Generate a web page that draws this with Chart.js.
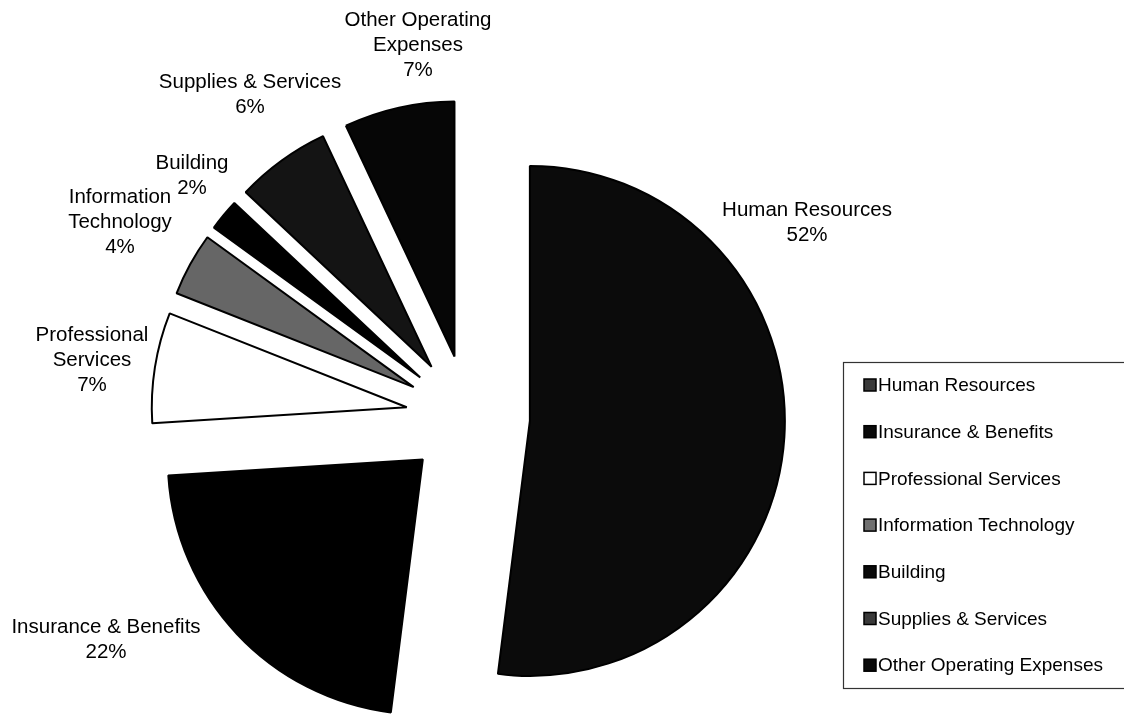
<!DOCTYPE html>
<html>
<head>
<meta charset="utf-8">
<script src="https://cdn.jsdelivr.net/npm/chart.js@4/dist/chart.umd.min.js"></script>
<style>
  html, body { margin: 0; padding: 0; background: #fff; }
  #wrap { position: relative; width: 1124px; height: 717px; }
</style>
</head>
<body>
<div id="wrap"><canvas id="c" width="1124" height="717"></canvas></div>
<script>
// ---- data ----
const categories = ["Human Resources", "Insurance & Benefits", "Professional Services", "Information Technology", "Building", "Supplies & Services", "Other Operating Expenses"];
const labelLines = [["Human Resources"], ["Insurance & Benefits"], ["Professional", "Services"], ["Information", "Technology"], ["Building"], ["Supplies & Services"], ["Other Operating", "Expenses"]];
const shares = [52, 22, 7, 4, 2, 6, 7];

// ---- styling (not data) ----
const sliceColors = ["#0b0b0b", "#000000", "#ffffff", "#666666", "#000000", "#141414", "#060606"];
const swatchColors = ["#3a3a3a", "#0a0a0a", "#ffffff", "#707070", "#0a0a0a", "#3a3a3a", "#0a0a0a"];
// label anchor offsets relative to pie centre (dx, dy) for centred text block
const labelOffsets = [[339, -194], [-362, 223], [-376, -57], [-348, -195], [-276, -241], [-218, -322], [-50, -372]];
const EXPLODE = 62;
const PIE_RADIUS = 255;
const FONT = '"Liberation Sans", Arial, sans-serif';

// move each slice outward along its mid-angle (uniform explode, like the source)
const explodePlugin = {
  id: 'explode',
  afterDatasetUpdate(chart, args) {
    const meta = chart.getDatasetMeta(args.index);
    meta.data.forEach(arc => {
      const mid = (arc.startAngle + arc.endAngle) / 2;
      arc.x += Math.cos(mid) * EXPLODE;
      arc.y += Math.sin(mid) * EXPLODE;
    });
  }
};

const labelPlugin = {
  id: 'sliceLabels',
  afterDatasetsDraw(chart) {
    const a = chart.chartArea;
    const cx = (a.left + a.right) / 2, cy = (a.top + a.bottom) / 2;
    const ctx = chart.ctx;
    ctx.save();
    ctx.font = '20.5px ' + FONT;
    ctx.fillStyle = '#000';
    ctx.textAlign = 'center';
    ctx.textBaseline = 'middle';
    const lh = 25;
    shares.forEach((v, i) => {
      const lines = labelLines[i].concat([v + '%']);
      const [dx, dy] = labelOffsets[i];
      const top = cy + dy - (lines.length - 1) * lh / 2;
      lines.forEach((t, k) => ctx.fillText(t, cx + dx, top + k * lh));
    });
    ctx.restore();
  }
};

const legendPlugin = {
  id: 'boxLegend',
  afterDraw(chart) {
    const ctx = chart.ctx;
    const boxL = 843, boxT = 362, boxB = 688, boxR = 1135;
    ctx.save();
    ctx.strokeStyle = '#333';
    ctx.lineWidth = 1.2;
    ctx.strokeRect(boxL + 0.5, boxT + 0.5, boxR - boxL, boxB - boxT);
    ctx.font = '19px ' + FONT;
    ctx.textBaseline = 'middle';
    ctx.textAlign = 'left';
    const step = 46.7;
    categories.forEach((name, i) => {
      const y = 385 + i * step;
      ctx.fillStyle = swatchColors[i];
      ctx.fillRect(864, y - 6, 12, 12);
      ctx.strokeStyle = '#000';
      ctx.lineWidth = 1.5;
      ctx.strokeRect(864, y - 6, 12, 12);
      ctx.fillStyle = '#000';
      ctx.fillText(name, 878, y + 1);
    });
    ctx.restore();
  }
};

new Chart(document.getElementById('c'), {
  type: 'pie',
  data: {
    labels: categories,
    datasets: [{
      data: shares,
      backgroundColor: sliceColors,
      borderColor: '#000',
      borderWidth: 2,
      radius: PIE_RADIUS,
      offset: 0,
      hoverOffset: 0
    }]
  },
  options: {
    responsive: false,
    animation: false,
    radius: PIE_RADIUS,
    layout: { padding: { left: 0, right: 188, top: 117, bottom: 0 } },
    plugins: {
      legend: { display: false },
      tooltip: { enabled: false }
    },
    events: []
  },
  plugins: [explodePlugin, labelPlugin, legendPlugin]
});
</script>
</body>
</html>
